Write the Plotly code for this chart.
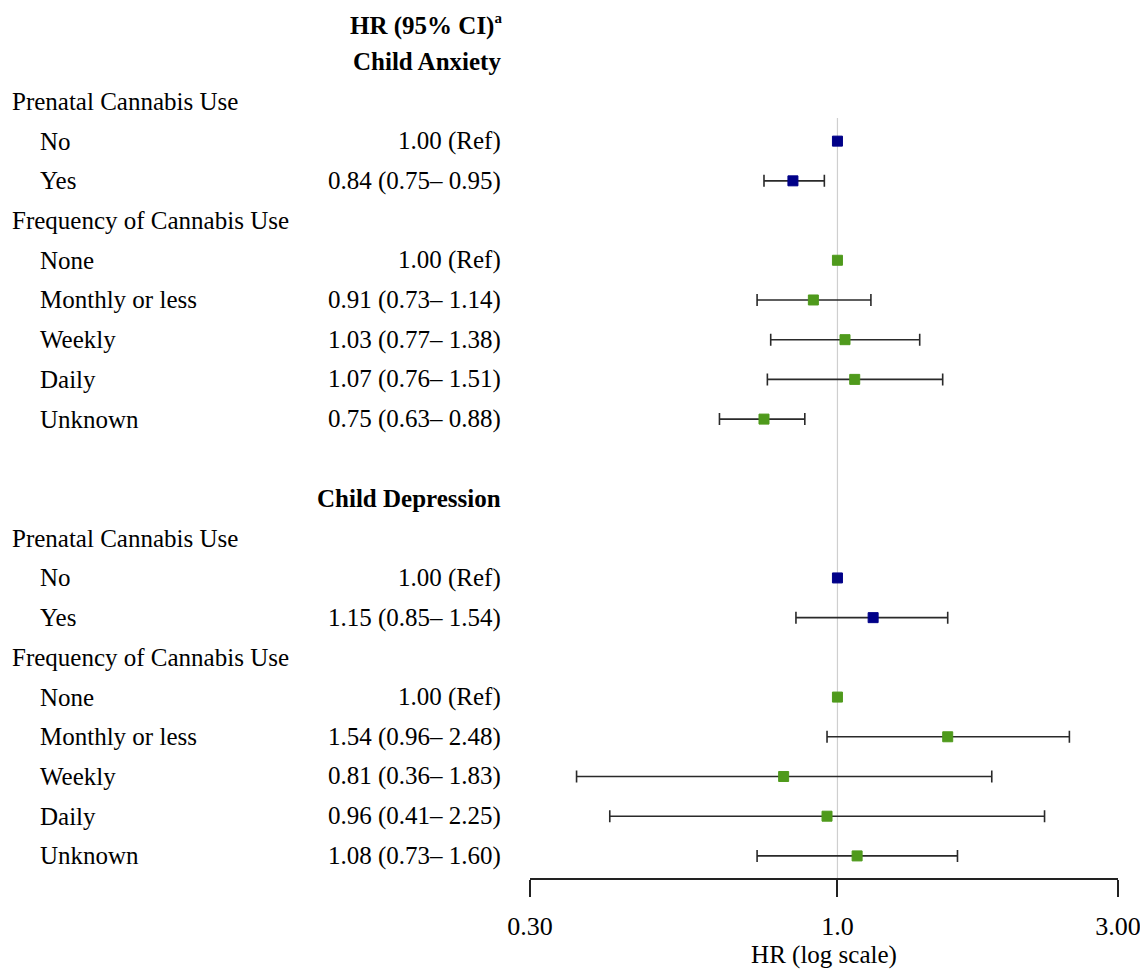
import math
import plotly.graph_objects as go

# ---- data ----
outcomes = ["Child Anxiety", "Child Depression"]
group_titles = ["Prenatal Cannabis Use", "Frequency of Cannabis Use"]
prenatal_levels = ["No", "Yes"]
freq_levels = ["None", "Monthly or less", "Weekly", "Daily", "Unknown"]

# Child Anxiety
anx_prenatal_hr = [1.00, 0.84]
anx_prenatal_lo = [None, 0.75]
anx_prenatal_hi = [None, 0.95]
anx_freq_hr = [1.00, 0.91, 1.03, 1.07, 0.75]
anx_freq_lo = [None, 0.73, 0.77, 0.76, 0.63]
anx_freq_hi = [None, 1.14, 1.38, 1.51, 0.88]

# Child Depression
dep_prenatal_hr = [1.00, 1.15]
dep_prenatal_lo = [None, 0.85]
dep_prenatal_hi = [None, 1.54]
dep_freq_hr = [1.00, 1.54, 0.81, 0.96, 1.08]
dep_freq_lo = [None, 0.96, 0.36, 0.41, 0.73]
dep_freq_hi = [None, 2.48, 1.83, 2.25, 1.60]

tick_vals = [0.30, 1.0, 3.00]
tick_text = ["0.30", "1.0", "3.00"]

NAVY = "#000088"
GREEN = "#4f9a1c"
FONT = "Liberation Serif"
FS = 25

# ---- layout helpers (figure is drawn with an 8px page offset) ----
W, H = 1140, 963
AX_L, AX_R = 522, 1110
ROW0, ROWSTEP = 14, 39.71
AX_Y = 870
y_top = (0 - ROW0) / ROWSTEP
y_bot = (AX_Y - ROW0) / ROWSTEP


def px(xpix):
    return (xpix - AX_L) / (AX_R - AX_L)


def fmt(hr, lo, hi):
    if lo is None:
        return f"{hr:.2f} (Ref)"
    return f"{hr:.2f} ({lo:.2f}\u2013 {hi:.2f})"


fig = go.Figure()
annotations = []

# reference line at HR = 1
fig.add_trace(go.Scatter(x=[1, 1], y=[2.42, y_bot], mode="lines",
                         line=dict(color="#cfcfcf", width=1.2),
                         hoverinfo="skip", showlegend=False))

annotations.append(dict(
    text="<b>HR (95% CI)<sup><span style='font-size:15px'>a</span></sup></b>",
    x=px(496), y=0.08, xanchor="right"))

blocks = [
    (0, [(anx_prenatal_hr, anx_prenatal_lo, anx_prenatal_hi),
         (anx_freq_hr, anx_freq_lo, anx_freq_hi)]),
    (1, [(dep_prenatal_hr, dep_prenatal_lo, dep_prenatal_hi),
         (dep_freq_hr, dep_freq_lo, dep_freq_hi)]),
]

row = 1
for oi, groups in blocks:
    annotations.append(dict(text=f"<b>{outcomes[oi]}</b>", x=px(495), y=row,
                            xanchor="right"))
    row += 1
    for gi, (hrs, los, his) in enumerate(groups):
        levels = prenatal_levels if gi == 0 else freq_levels
        color = NAVY if gi == 0 else GREEN
        annotations.append(dict(text=group_titles[gi], x=px(2), y=row,
                                xanchor="left"))
        row += 1
        ref_x, ref_y = [], []
        est_x, est_y, ep, em = [], [], [], []
        for lev, hr, lo, hi in zip(levels, hrs, los, his):
            annotations.append(dict(text=lev, x=px(30), y=row, xanchor="left"))
            annotations.append(dict(text=fmt(hr, lo, hi), x=px(495), y=row,
                                    xanchor="right"))
            if lo is None:
                ref_x.append(hr)
                ref_y.append(row)
            else:
                est_x.append(hr)
                est_y.append(row)
                ep.append(hi - hr)
                em.append(hr - lo)
            row += 1
        fig.add_trace(go.Scatter(
            x=est_x, y=est_y, mode="markers",
            marker=dict(symbol="square", size=10, color=color,
                        line=dict(color=color, width=1)),
            error_x=dict(type="data", symmetric=False, array=ep, arrayminus=em,
                         color="#2a2a2a", thickness=1.6, width=6),
            showlegend=False))
        fig.add_trace(go.Scatter(
            x=ref_x, y=ref_y, mode="markers",
            marker=dict(symbol="square", size=10, color=color,
                        line=dict(color=color, width=1)),
            showlegend=False))
    row += 1  # blank row between outcomes

for a in annotations:
    a.update(xref="paper", yref="y", showarrow=False, yanchor="middle",
             font=dict(family=FONT, size=FS, color="black"))
fig.update_layout(annotations=annotations)

fig.update_layout(
    width=W, height=H,
    margin=dict(l=AX_L, r=W - AX_R, t=0, b=H - AX_Y),
    paper_bgcolor="white", plot_bgcolor="white",
    font=dict(family=FONT, size=FS, color="black"),
    xaxis=dict(type="log", range=[math.log10(0.3), math.log10(3)],
               tickvals=tick_vals, ticktext=tick_text,
               ticks="outside", ticklen=17, tickwidth=1.5, tickcolor="#222",
               ticklabelstandoff=7,
               showline=True, linecolor="#222", linewidth=1.5,
               showgrid=False, zeroline=False,
               title=dict(text="HR (log scale)", standoff=3,
                          font=dict(family=FONT, size=FS)),
               tickfont=dict(family=FONT, size=FS + 1)),
    yaxis=dict(range=[y_bot, y_top], visible=False, showgrid=False,
               zeroline=False),
)

fig.write_html("out.html")
